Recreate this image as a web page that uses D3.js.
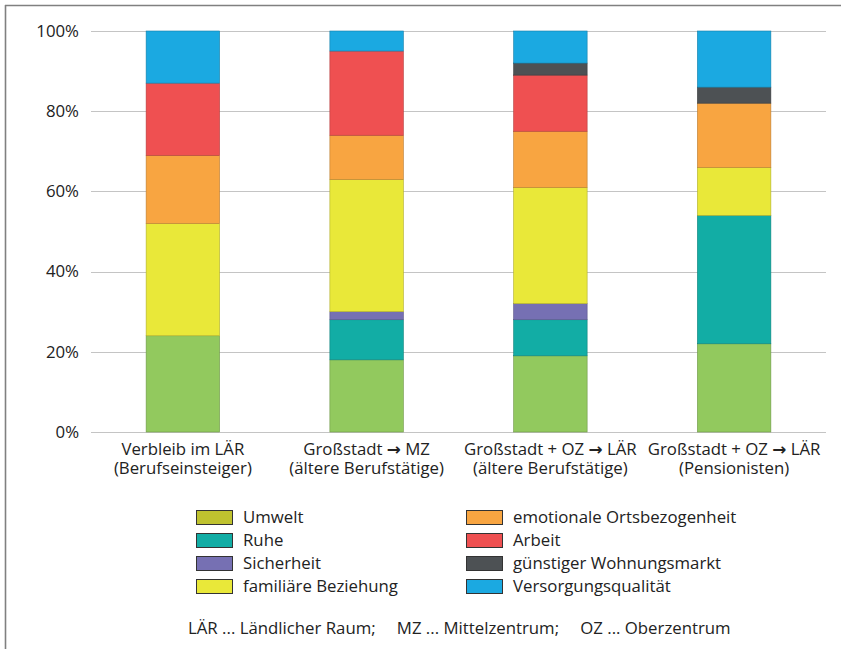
<!DOCTYPE html>
<html>
<head>
<meta charset="utf-8">
<script src="https://cdn.jsdelivr.net/npm/d3@7"></script>
<style>
  html, body { margin: 0; padding: 0; background: #fff; }
  svg { display: block; font-family: "Open Sans", "Noto Sans", sans-serif; }
</style>
</head>
<body>
<svg id="chart" width="841" height="649"></svg>
<script>
const categoriesLine1 = [
  ["Verbleib im LÄR"],
  ["Großstadt ", "\u2192", " MZ"],
  ["Großstadt + OZ ", "\u2192", " LÄR"],
  ["Großstadt + OZ ", "\u2192", " LÄR"]
];
const categoriesLine2 = ["(Berufseinsteiger)", "(ältere Berufstätige)", "(ältere Berufstätige)", "(Pensionisten)"];
const seriesNames = ["Umwelt", "Ruhe", "Sicherheit", "familiäre Beziehung",
  "emotionale Ortsbezogenheit", "Arbeit", "günstiger Wohnungsmarkt", "Versorgungsqualität"];
const umwelt      = [24, 18, 19, 22];
const ruhe        = [0, 10, 9, 32];
const sicherheit  = [0, 2, 4, 0];
const familiaer   = [28, 33, 29, 12];
const emotional   = [17, 11, 14, 16];
const arbeit      = [18, 21, 14, 0];
const wohnung     = [0, 0, 3, 4];
const versorgung  = [13, 5, 8, 14];
const tickValues = [0, 0.2, 0.4, 0.6, 0.8, 1.0];
const footnote = "LÄR ... Ländlicher Raum;\u2003 MZ ... Mittelzentrum;\u2003 OZ ... Oberzentrum";

const seriesValues = [umwelt, ruhe, sicherheit, familiaer, emotional, arbeit, wohnung, versorgung];
const barColors = ["#92c95e", "#12ada5", "#7670b3", "#e9e839", "#f8a541", "#ef5051", "#4d5154", "#1ba9e1"];
const legendColors = ["#bfc22f", "#12ada5", "#7670b3", "#e9e839", "#f8a541", "#ef5051", "#4d5154", "#1ba9e1"];

const FS = 16.8;
const svg = d3.select("#chart");

// frame (left and top edges only)
svg.append("line").attr("x1", 5.5).attr("x2", 5.5).attr("y1", 5).attr("y2", 649)
  .attr("stroke", "#808080").attr("stroke-width", 1.6);
svg.append("line").attr("x1", 5).attr("x2", 841).attr("y1", 5.5).attr("y2", 5.5)
  .attr("stroke", "#808080").attr("stroke-width", 1.6);

const x = d3.scaleBand().domain(d3.range(categoriesLine2.length)).range([91, 826])
  .paddingInner(0.6).paddingOuter(0.3);
const y = d3.scaleLinear().domain([0, 1]).range([432, 31]);

// gridlines
svg.append("g").selectAll("line").data(tickValues).join("line")
  .attr("x1", 91).attr("x2", 826)
  .attr("y1", d => Math.round(y(d)) + 0.5).attr("y2", d => Math.round(y(d)) + 0.5)
  .attr("stroke", "#c4c4c4").attr("stroke-width", 1.2);

// y axis labels
const yAxis = d3.axisLeft(y).tickValues(tickValues).tickFormat(d3.format(".0%")).tickSize(0).tickPadding(12);
const gy = svg.append("g").attr("transform", "translate(91,0)").call(yAxis);
gy.select(".domain").remove();
gy.selectAll("text").attr("font-size", FS).attr("fill", "#222").attr("font-family", "Open Sans");

// stack
const table = categoriesLine2.map((c, i) => {
  const row = { idx: i };
  seriesNames.forEach((s, k) => row[s] = seriesValues[k][i]);
  return row;
});
const stack = d3.stack().keys(seriesNames).offset(d3.stackOffsetExpand);
const layers = stack(table);

svg.append("g").selectAll("g").data(layers).join("g")
  .attr("fill", (d, k) => barColors[k])
  .attr("stroke", (d, k) => d3.color(barColors[k]).darker(0.8))
  .attr("stroke-width", 0.6)
  .selectAll("rect").data(d => d.filter(p => p[1] - p[0] > 0)).join("rect")
  .attr("x", d => x(d.data.idx))
  .attr("width", x.bandwidth())
  .attr("y", d => y(d[1]))
  .attr("height", d => y(d[0]) - y(d[1]));

// category labels
const cx = i => x(i) + x.bandwidth() / 2;
const l1 = svg.append("g").selectAll("text").data(categoriesLine1).join("text")
  .attr("x", (d, i) => cx(i)).attr("y", 455)
  .attr("text-anchor", "middle").attr("font-size", FS).attr("fill", "#222");
l1.selectAll("tspan").data(d => d).join("tspan")
  .attr("font-family", t => t === "\u2192" ? "DejaVu Sans" : null)
  .attr("font-weight", t => t === "\u2192" ? "bold" : null)
  .attr("xml:space", "preserve")
  .text(t => t);
svg.append("g").selectAll("text").data(categoriesLine2).join("text")
  .attr("x", (d, i) => cx(i)).attr("y", 474)
  .attr("text-anchor", "middle").attr("font-size", FS).attr("fill", "#222")
  .text(d => d);

// legend
const legend = svg.append("g");
const items = legend.selectAll("g").data(seriesNames).join("g")
  .attr("transform", (d, k) => {
    const col = Math.floor(k / 4), row = k % 4;
    return `translate(${col === 0 ? 196 : 466},${510 + row * 23})`;
  });
items.append("rect").attr("x", 0.5).attr("y", 0.5).attr("width", 36).attr("height", 14)
  .attr("fill", (d, k) => legendColors[k]).attr("stroke", "#333").attr("stroke-width", 1);
items.append("text").attr("x", 47).attr("y", 13).attr("font-size", FS).attr("fill", "#222").text(d => d);

// footnote
svg.append("text").attr("x", 188).attr("y", 634).attr("font-size", FS).attr("fill", "#222")
  .attr("xml:space", "preserve").text(footnote);
</script>
</body>
</html>
